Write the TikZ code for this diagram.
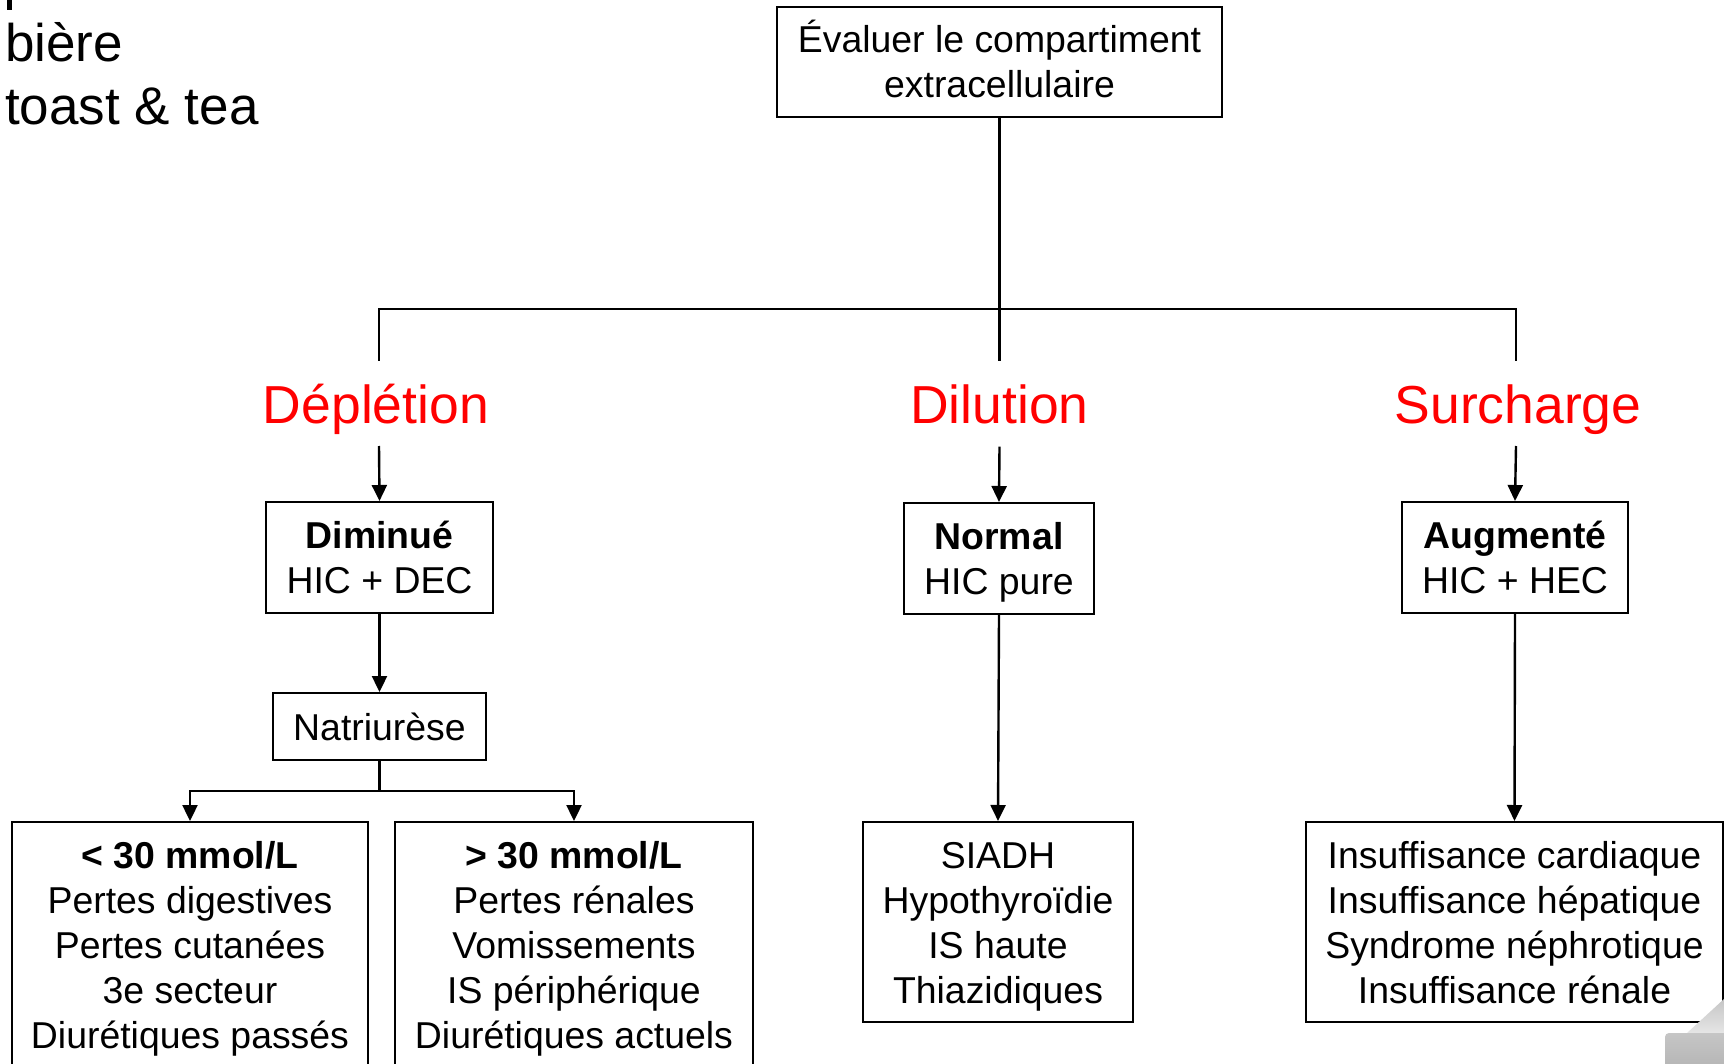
\documentclass[tikz,border=0pt]{standalone}
\usepackage{fontspec}
\setmainfont{Liberation Sans}
\usetikzlibrary{arrows.meta}
\newcommand\firstln[1]{\raisebox{0pt}[27pt][0pt]{#1}}
\newcommand\lastln[1]{\raisebox{0pt}[\height][0pt]{#1}}
\begin{document}
\begin{tikzpicture}[x=1pt,y=-1pt,
  box/.style={draw, line width=2pt, inner sep=0pt, align=center, font=\fontsize{37.4}{45}\selectfont},
  lab/.style={text=red, inner sep=0pt, font=\fontsize{53.5}{64}\selectfont, text height=38pt, text depth=0pt, minimum height=85pt},
  conn/.style={line width=2.4pt},
  arr/.style={conn, -{Triangle[length=16pt,width=15pt]}},
  plain/.style={inner sep=0pt, font=\fontsize{53}{63}\selectfont}]
\clip (0,0) rectangle (1724,1064);
\fill[white] (0,0) rectangle (1724,1064);

% top-left text
\fill[black] (7,0) rectangle (12,10);
\node[plain, anchor=base west] (t1) at (5,62) {bière};
\node[plain, anchor=base west] (t2) at (5,125) {toast \& tea};

% top box
\node[box, minimum width=445pt, minimum height=110pt] (top) at (999.5,62) {\firstln{Évaluer le compartiment}\\\lastln{extracellulaire}};

% red labels
\node[lab] (dep) at (376,404) {Déplétion};
\node[lab] (dil) at (999.5,404) {Dilution};
\node[lab] (sur) at (1518,404) {Surcharge};
\coordinate (depc) at (379,361);
\coordinate (surc) at (1516,361);
\coordinate (deps) at (379,446);
\coordinate (surs) at (1516,446);

% second row
\node[box, minimum width=227pt, minimum height=111pt] (dim) at (379.5,557.5) {\firstln{\textbf{Diminué}}\\\lastln{HIC + DEC}};
\node[box, minimum width=190pt, minimum height=111pt] (nor) at (999,558.5) {\firstln{\textbf{Normal}}\\\lastln{HIC pure}};
\node[box, minimum width=226pt, minimum height=111pt] (aug) at (1515,557.5) {\firstln{\textbf{Augmenté}}\\\lastln{HIC + HEC}};

\node[box, minimum width=213pt, minimum height=67pt] (natr) at (379.5,726.5) {\firstln{\lastln{Natriurèse}}};

% bottom boxes
\node[box, minimum width=356pt, minimum height=246pt] (b1) at (190,945) {\firstln{\textbf{< 30 mmol/L}}\\Pertes digestives\\Pertes cutanées\\3e secteur\\\lastln{Diurétiques passés}};
\node[box, minimum width=358pt, minimum height=246pt] (b2) at (574,945) {\firstln{\textbf{> 30 mmol/L}}\\Pertes rénales\\Vomissements\\IS périphérique\\\lastln{Diurétiques actuels}};
\node[box, minimum width=270pt, minimum height=200pt] (b3) at (998,922) {\firstln{SIADH}\\Hypothyroïdie\\IS haute\\\lastln{Thiazidiques}};
\node[box, minimum width=417pt, minimum height=200pt] (b4) at (1514.5,922) {\firstln{Insuffisance cardiaque}\\Insuffisance hépatique\\Syndrome néphrotique\\\lastln{Insuffisance rénale}};

% connectors
\draw[conn] (top.south) -- (dil.north);
\draw[conn] (depc) -- ++(0,-52) -| (surc);
\draw[arr] (deps) -- (dim.north);
\draw[arr] (dil.south) -- (nor.north);
\draw[arr] (surs) -- (aug.north);
\draw[arr] (dim.south) -- (natr.north);
\draw[conn] (natr.south) -- ++(0,30) coordinate (k);
\draw[arr] (k) -| (b1.north);
\draw[arr] (k) -| (b2.north);
\draw[arr] (nor.south) -- (b3.north);
\draw[arr] (aug.south) -- (b4.north);

% page curl
\shade[top color=gray!45, bottom color=gray!20] (1687,1033) -- (1724,999) -- (1724,1033) -- cycle;
\shade[top color=gray!45, bottom color=gray!60, rounded corners=4pt] (1665,1033) rectangle (1734,1074);
\end{tikzpicture}
\end{document}
